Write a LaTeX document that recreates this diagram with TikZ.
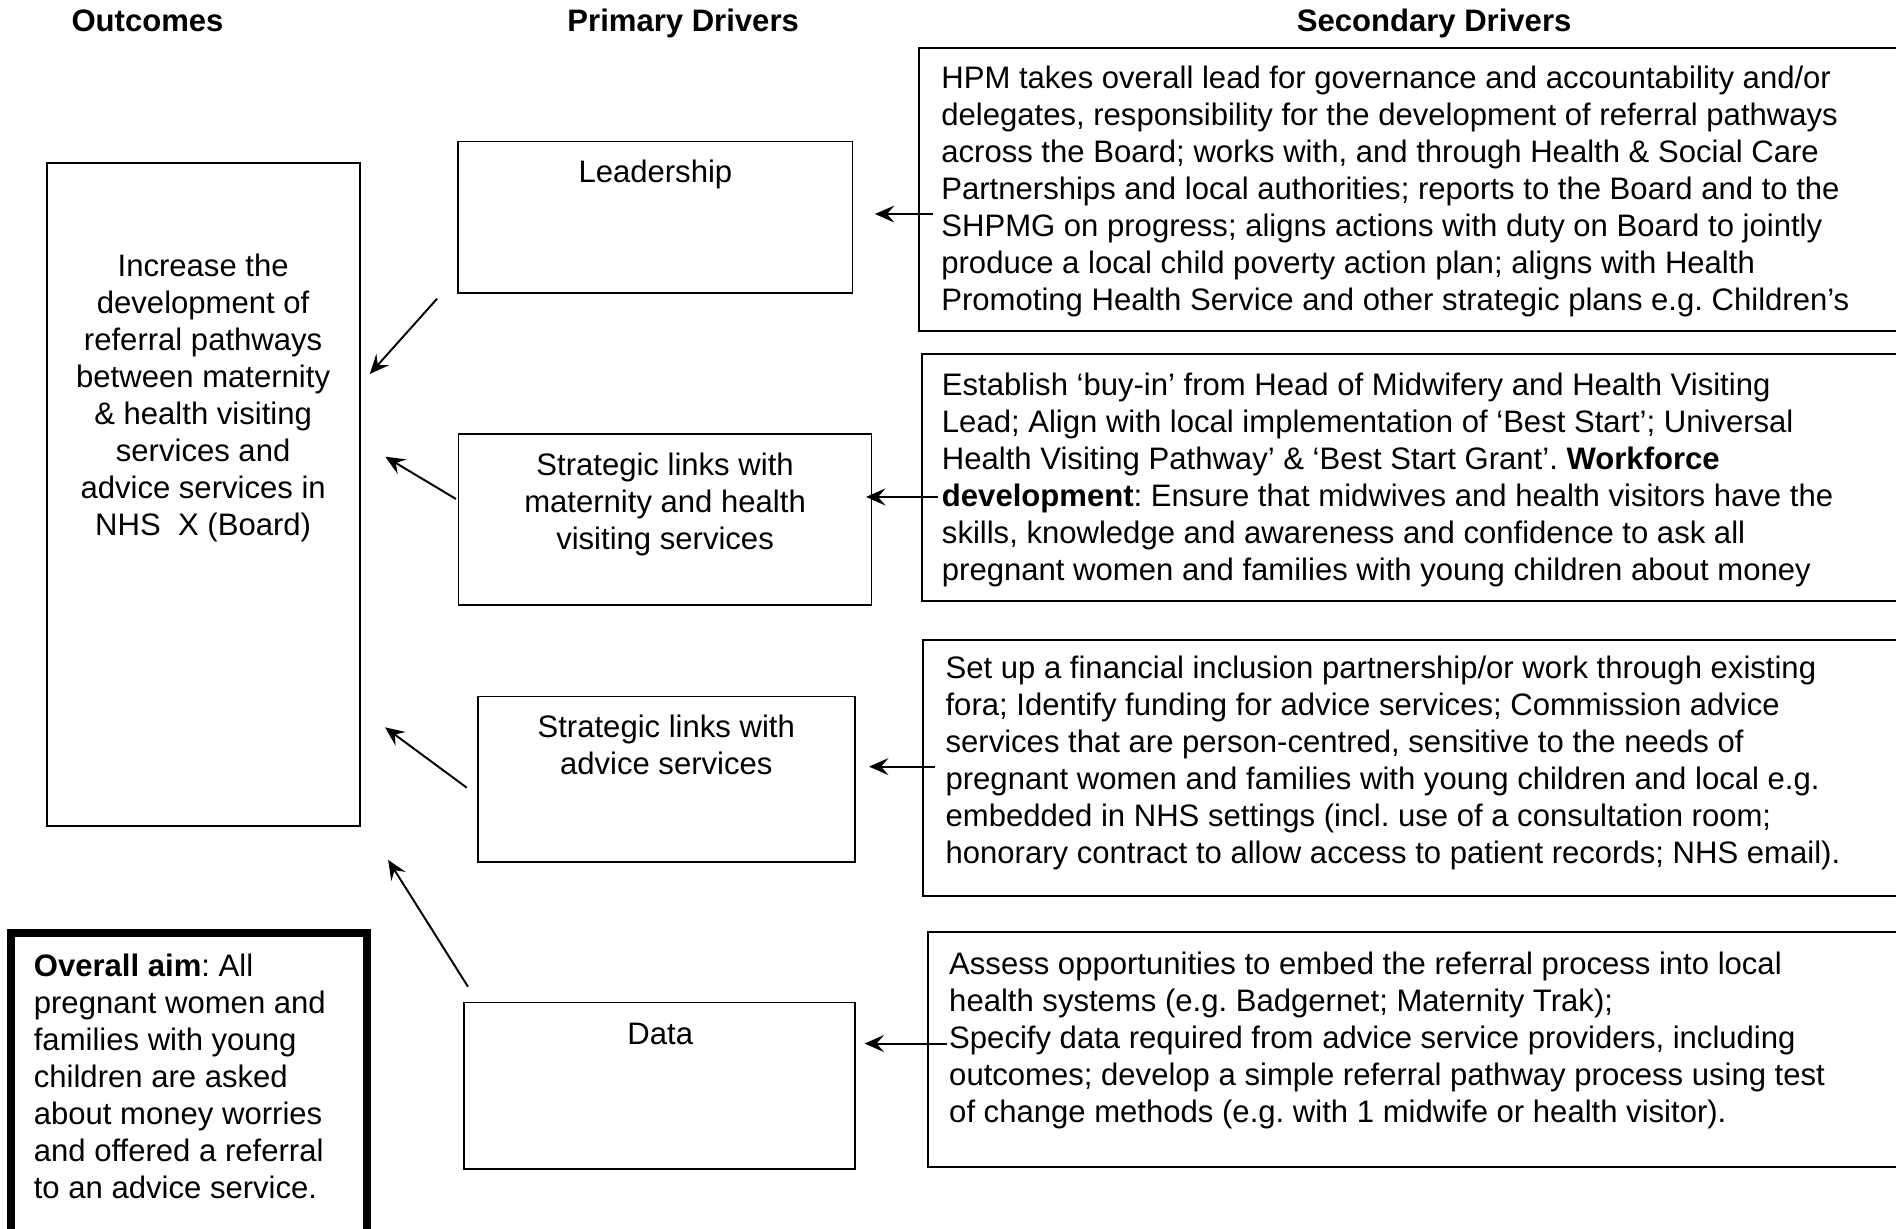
\documentclass[tikz,border=0pt]{standalone}
\usepackage{fontspec}
\setmainfont{Liberation Sans}
\usetikzlibrary{arrows.meta,fit,calc}
\begin{document}
\frenchspacing
\begin{tikzpicture}[x=0.5pt,y=-0.5pt,
  txt/.style={inner sep=0pt, outer sep=0pt, font=\fontsize{12.85}{15.3}\selectfont},
  hdr/.style={inner sep=0pt, outer sep=0pt, font=\fontsize{12.85}{15.3}\selectfont\bfseries, anchor=base},
  lefttxt/.style={txt, anchor=north west, align=left},
  midtxt/.style={txt, anchor=north, align=center},
  box/.style={draw, line width=0.75pt, inner sep=0pt, outer sep=0pt},
  aimbox/.style={draw, line width=3.2pt, inner sep=0pt, outer sep=0pt},
  arr/.style={draw, line width=0.8pt, -{Stealth[length=8pt,width=7pt,inset=3pt]}}]
\useasboundingbox (0,0) rectangle (1568,1016);
\clip (0,0) rectangle (1568,1016);

% headers
\node[hdr] (h1) at (122,26) {Outcomes};
\node[hdr] (h2) at (565,26) {Primary Drivers};
\node[hdr] (h3) at (1186,26) {Secondary Drivers};

% boxes
\node[box, fit={(38.6,135) (297.4,683)}] (out) {};
\node[aimbox, fit={(9.2,771.6) (303.3,1040)}] (aim) {};
\node[box, fit={(379,117) (705,242)}] (lead) {};
\node[box, fit={(379.2,359.2) (720.7,500.3)}] (mat) {};
\node[box, fit={(395.5,576) (707,713)}] (adv) {};
\node[box, fit={(383.7,829) (707,967)}] (data) {};
\node[box, fit={(760.3,40) (1600,273.7)}] (s1) {};
\node[box, fit={(762.6,293) (1600,497)}] (s2) {};
\node[box, fit={(763.5,529) (1600,741)}] (s3) {};
\node[box, fit={(767.5,771) (1600,965)}] (s4) {};

% texts
\node[midtxt] (outt) at (168,207.5) {\strut Increase the\\development of\\referral pathways\\between maternity\\\& health visiting\\services and\\advice services in\\NHS~~X (Board)};
\node[lefttxt] (aimt) at (28,786.5) {\strut\textbf{Overall aim}: All\\pregnant women and\\families with young\\children are asked\\about money worries\\and offered a referral\\to an advice service.};
\node[midtxt] (leadt) at (542,129.5) {\strut Leadership};
\node[midtxt] (matt) at (550,371.5) {\strut Strategic links with\\maternity and health\\visiting services};
\node[midtxt] (advt) at (551,588.5) {\strut Strategic links with\\advice services};
\node[midtxt] (datat) at (546,842.5) {\strut Data};

\node[lefttxt] (s1t) at (778.5,52) {\strut HPM takes overall lead for governance and accountability and/or\\delegates, responsibility for the development of referral pathways\\across the Board; works with, and through Health \& Social Care\\Partnerships and local authorities; reports to the Board and to the\\SHPMG on progress; aligns actions with duty on Board to jointly\\produce a local child poverty action plan; aligns with Health\\Promoting Health Service and other strategic plans e.g. Children’s};
\node[lefttxt] (s2t) at (779,305.5) {\strut Establish ‘buy-in’ from Head of Midwifery and Health Visiting\\Lead; Align with local implementation of ‘Best Start’; Universal\\Health Visiting Pathway’ \& ‘Best Start Grant’. \textbf{Workforce}\\\textbf{development}: Ensure that midwives and health visitors have the\\skills, knowledge and awareness and confidence to ask all\\pregnant women and families with young children about money};
\node[lefttxt] (s3t) at (782,539.5) {\strut Set up a financial inclusion partnership/or work through existing\\fora; Identify funding for advice services; Commission advice\\services that are person-centred, sensitive to the needs of\\pregnant women and families with young children and local e.g.\\embedded in NHS settings (incl. use of a consultation room;\\honorary contract to allow access to patient records; NHS email).};
\node[lefttxt] (s4t) at (785,784.5) {\strut Assess opportunities to embed the referral process into local\\health systems (e.g. Badgernet; Maternity Trak);\\Specify data required from advice service providers, including\\outcomes; develop a simple referral pathway process using test\\of change methods (e.g. with 1 midwife or health visitor).};

% arrows secondary -> primary
\draw[arr] ($(s1.west |- 0,177)+(11.3,0)$) -- ($(lead.east |- 0,177)+(18.6,0)$);
\draw[arr] ($(s2.west |- 0,411)+(13,0)$) -- ($(mat.east |- 0,411)+(-4.5,0)$);
\draw[arr] ($(s3.west |- 0,634)+(9.5,0)$) -- ($(adv.east |- 0,634)+(11.7,0)$);
\draw[arr] ($(s4.west |- 0,863)+(15.5,0)$) -- ($(data.east |- 0,863)+(8,0)$);

% arrows primary -> outcome
\draw[arr] ($(lead.south west)+(-17.5,5)$) -- ($(out.east)+(8.4,-99.7)$);
\draw[arr] ($(mat.west)+(-2.1,-17.1)$) -- ($(out.east)+(21.3,-31.3)$);
\draw[arr] ($(adv.west)+(-9.5,6.9)$) -- ($(out.east)+(21,192.5)$);
\draw[arr] ($(data.north west)+(3.3,-13)$) -- ($(out.east)+(23.6,302.2)$);
\end{tikzpicture}
\end{document}
